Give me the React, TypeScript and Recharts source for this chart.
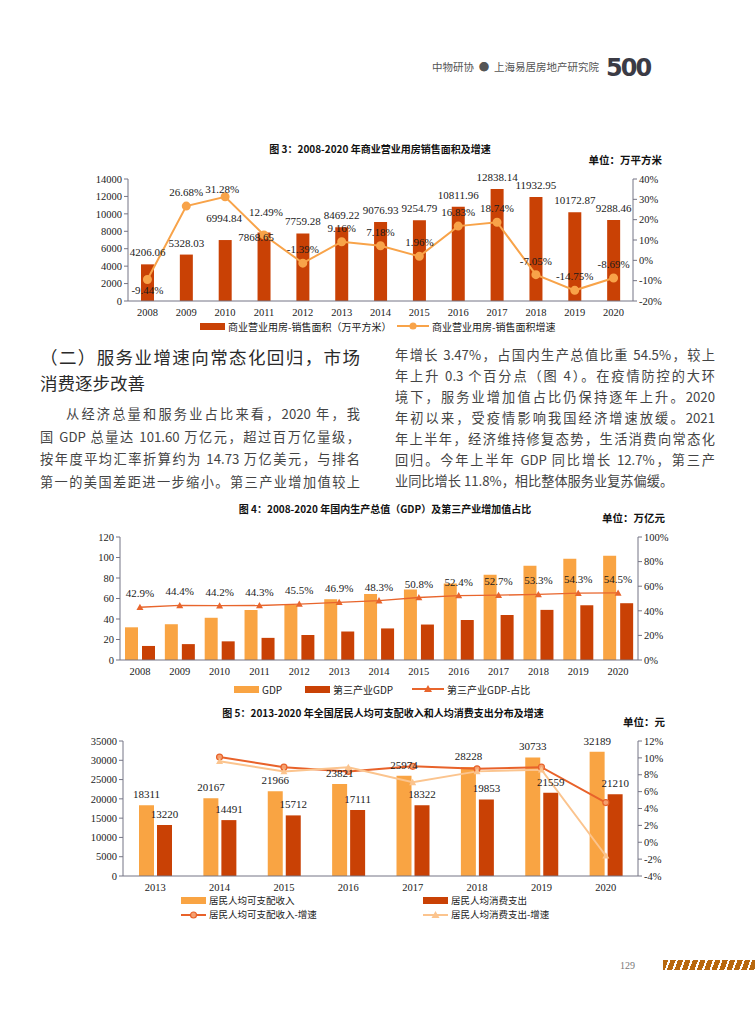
import React from 'react';
import { ComposedChart, Bar, Line, XAxis, YAxis, LabelList } from 'recharts';

// 图3 商业营业用房销售面积及增速
const years3 = ['2008', '2009', '2010', '2011', '2012', '2013', '2014', '2015', '2016', '2017', '2018', '2019', '2020'];
const salesArea = [4206.06, 5328.03, 6994.84, 7868.65, 7759.28, 8469.22, 9076.93, 9254.79, 10811.96, 12838.14, 11932.95, 10172.87, 9288.46];
const salesGrowth = [-9.44, 26.68, 31.28, 12.49, -1.39, 9.16, 7.18, 1.96, 16.83, 18.74, -7.05, -14.75, -8.69];
const areaTicks = [0, 2000, 4000, 6000, 8000, 10000, 12000, 14000];
const growthTicks = [-20, -10, 0, 10, 20, 30, 40];

// 图4 GDP 及第三产业占比
const years4 = years3;
const gdp = [31.9, 34.9, 41.2, 48.8, 53.9, 59.3, 64.4, 68.9, 74.6, 83.2, 91.9, 98.7, 101.6];
const tertiaryGdp = [13.7, 15.5, 18.2, 21.6, 24.4, 27.8, 30.8, 34.6, 39.0, 43.8, 48.9, 53.4, 55.4];
const tertiaryShare = [42.9, 44.4, 44.2, 44.3, 45.5, 46.9, 48.3, 50.8, 52.4, 52.7, 53.3, 54.3, 54.5];
const gdpTicks = [0, 20, 40, 60, 80, 100, 120];
const shareTicks = [0, 20, 40, 60, 80, 100];

// 图5 居民人均可支配收入和消费支出
const years5 = ['2013', '2014', '2015', '2016', '2017', '2018', '2019', '2020'];
const income = [18311, 20167, 21966, 23821, 25974, 28228, 30733, 32189];
const consumption = [13220, 14491, 15712, 17111, 18322, 19853, 21559, 21210];
const incomeGrowth = [null, 10.1, 8.9, 8.4, 9.0, 8.7, 8.9, 4.7];
const consumptionGrowth = [null, 9.6, 8.4, 8.9, 7.1, 8.4, 8.6, -1.6];
const incomeTicks = [0, 5000, 10000, 15000, 20000, 25000, 30000, 35000];
const rateTicks = [-4, -2, 0, 2, 4, 6, 8, 10, 12];

const NUM = '"Liberation Serif", "Times New Roman", serif';
const CJK = '"Noto Sans CJK SC", "Noto Sans", sans-serif';
const AXIS = '#757585';
const DARK = '#C94105';
const LIGHT = '#F9A443';

const tickStyle = { fontSize: 10.5, fill: '#222', fontFamily: NUM };

const range = (n: number) => Array.from({ length: n + 1 }, (_, i) => i);

// hand-moved labels in the original (index -> [dx, dy])
const areaLabelNudge: Record<number, number[]> = { 2: [-1, -10], 3: [-8, 17] };
const growthLabelNudge: Record<number, number[]> = { 2: [-3, 6], 3: [2, -9] };

// label placed above (or below) a bar top / line point
const makeLabel = (fmt: (v: number) => string, dy: number, belowIdx: number[] = [], belowDy = 16, nudge: Record<number, number[]> = {}) => (props: any) => {
  const vb = props.viewBox ?? props;
  const [nx, ny] = nudge[props.index] ?? [0, 0];
  const x = (vb.x ?? 0) + (vb.width ?? 0) / 2 + nx;
  const y = (vb.y ?? 0) + ny;
  if (props.value == null) return null;
  const below = belowIdx.includes(props.index);
  return (
    <text x={x} y={below ? y + belowDy : y - dy} textAnchor="middle" fontSize={11} fontFamily={NUM} fill="#1a1a1a">
      {fmt(Number(props.value))}
    </text>
  );
};

const triangleDot = (color: string, size: number) => (props: any) => {
  const { cx, cy, index } = props;
  if (typeof cx !== 'number' || typeof cy !== 'number' || props.value == null) return <g key={`t-${index}`} />;
  return (
    <path key={`t-${index}`} d={`M${cx},${cy - size} L${cx + size},${cy + size * 0.8} L${cx - size},${cy + size * 0.8} Z`} fill={color} />
  );
};

function T({ x, cy, size = 13, children, color = '#333', w, justify = false, weight = 400, anchor = 'left', family = CJK }: any) {
  const style: React.CSSProperties = {
    position: 'absolute',
    top: cy - size * 0.75,
    fontSize: size,
    lineHeight: `${size * 1.5}px`,
    color,
    fontWeight: weight,
    fontFamily: family,
    whiteSpace: justify ? 'normal' : 'nowrap',
  };
  if (anchor === 'right') style.right = 755 - x;
  else if (anchor === 'center') { style.left = x - 300; style.width = 600; style.textAlign = 'center'; }
  else style.left = x;
  if (w) style.width = w;
  if (justify) { style.textAlign = 'justify'; style.textAlignLast = 'justify'; }
  return <div style={style}>{children}</div>;
}

const legendRow: React.CSSProperties = {
  position: 'absolute', height: 11, display: 'flex', alignItems: 'center', whiteSpace: 'nowrap',
  lineHeight: '11px', color: '#222', fontFamily: CJK,
};

function LegendBox({ x, cy, color, text, w = 25, size = 10 }: any) {
  return (
    <div style={{ ...legendRow, fontSize: size, left: x, top: cy - 5.5 }}>
      <span style={{ display: 'inline-block', width: w, height: 7, background: color, marginRight: 3 }} />
      {text}
    </div>
  );
}

function LegendLine({ x, cy, color, text, marker, w = 32, fill, size = 10 }: any) {
  return (
    <div style={{ ...legendRow, fontSize: size, left: x, top: cy - 5.5 }}>
      <svg width={w} height={10} style={{ marginRight: 3 }}>
        <line x1={0} y1={5} x2={w} y2={5} stroke={color} strokeWidth={2} />
        {marker === 'circle' ? (
          <circle cx={w / 2} cy={5} r={3} fill={fill ?? color} stroke={color} strokeWidth={1.2} />
        ) : (
          <path d={`M${w / 2},1 L${w / 2 + 4},8 L${w / 2 - 4},8 Z`} fill={color} />
        )}
      </svg>
      {text}
    </div>
  );
}

const boundaryAxis = (n: number) => (
  <XAxis xAxisId="grid" type="number" domain={[0, n]} ticks={range(n)} allowDataOverflow tick={false}
    axisLine={false} tickLine={{ stroke: AXIS }} tickSize={4} height={1} />
);

export default function App() {
  const fig3 = years3.map((year, i) => ({ year, area: salesArea[i], growth: salesGrowth[i] }));
  const fig4 = years4.map((year, i) => ({ year, gdp: gdp[i], tertiary: tertiaryGdp[i], share: tertiaryShare[i] }));
  const fig5 = years5.map((year, i) => ({
    year, income: income[i], consumption: consumption[i], incomeGrowth: incomeGrowth[i], consumptionGrowth: consumptionGrowth[i],
  }));

  return (
    <div style={{ position: 'absolute', left: 0, top: 0, width: 755, height: 1024, background: '#fff', overflow: 'hidden', fontFamily: CJK }}>
      {/* header */}
      <T x={432} cy={67} size={10.5} color="#555">中物研协&nbsp;&nbsp;●&nbsp;&nbsp;上海易居房地产研究院</T>
      <div style={{ position: 'absolute', left: 606, top: 54, fontSize: 24, fontWeight: 800, fontFamily: '"DejaVu Sans", sans-serif', color: '#3b3b45', letterSpacing: -2 }}>500</div>

      {/* fig 3 */}
      <T x={380} cy={148} size={10} anchor="center" color="#111" weight={700}>图 3：2008-2020 年商业营业用房销售面积及增速</T>
      <T x={662} cy={160} size={10.5} anchor="right" color="#111" weight={700}>单位：万平方米</T>
      <div style={{ position: 'absolute', left: 0, top: 170 }}>
        <ComposedChart width={755} height={150} data={fig3} margin={{ top: 9, right: 72, bottom: 17, left: 78 }}>
          <XAxis dataKey="year" interval={0} tickLine={false} axisLine={{ stroke: AXIS }} tick={tickStyle} height={1} />
          {boundaryAxis(years3.length)}
          <YAxis yAxisId="left" width={50} domain={[0, 14000]} ticks={areaTicks} interval={0} tick={tickStyle}
            axisLine={{ stroke: AXIS }} tickLine={{ stroke: AXIS }} tickSize={4} />
          <YAxis yAxisId="right" orientation="right" width={50} domain={[-20, 40]} ticks={growthTicks} interval={0}
            tick={tickStyle} tickFormatter={(v) => `${v}%`} axisLine={{ stroke: AXIS }} tickLine={{ stroke: AXIS }} tickSize={4} />
          <Bar yAxisId="left" dataKey="area" fill={DARK} barSize={13} isAnimationActive={false}>
            <LabelList dataKey="area" content={makeLabel((v) => v.toFixed(2), 8, [], 16, areaLabelNudge)} />
          </Bar>
          <Line yAxisId="right" dataKey="growth" type="linear" stroke="#F8A349" strokeWidth={2}
            dot={{ r: 3.5, fill: '#F8A349', stroke: '#F8A349' }} isAnimationActive={false}>
            <LabelList dataKey="growth" content={makeLabel((v) => `${v.toFixed(2)}%`, 10, [0], 14, growthLabelNudge)} />
          </Line>
        </ComposedChart>
      </div>
      <LegendBox x={200} cy={326} color={DARK} text="商业营业用房-销售面积（万平方米）" />
      <LegendLine x={397} cy={326} color="#F8A349" marker="circle" text="商业营业用房-销售面积增速" />

      {/* text section */}
      <T x={40} cy={357} size={17.5} w={320} justify color="#2a2a2a">（二）服务业增速向常态化回归，市场</T>
      <T x={40} cy={383} size={17.5} color="#2a2a2a">消费逐步改善</T>
      <T x={66} cy={414} size={13.2} w={294} justify color="#444">从经济总量和服务业占比来看，2020 年，我</T>
      <T x={40} cy={437} size={13.2} w={320} justify color="#444">国 GDP 总量达 101.60 万亿元，超过百万亿量级，</T>
      <T x={40} cy={459} size={13.2} w={320} justify color="#444">按年度平均汇率折算约为 14.73 万亿美元，与排名</T>
      <T x={40} cy={482} size={13.2} w={320} justify color="#444">第一的美国差距进一步缩小。第三产业增加值较上</T>

      <T x={395} cy={355} size={13.2} w={320} justify color="#444">年增长 3.47%，占国内生产总值比重 54.5%，较上</T>
      <T x={395} cy={376} size={13.2} w={320} justify color="#444">年上升 0.3 个百分点（图 4）。在疫情防控的大环</T>
      <T x={395} cy={397} size={13.2} w={320} justify color="#444">境下，服务业增加值占比仍保持逐年上升。2020</T>
      <T x={395} cy={418} size={13.2} w={320} justify color="#444">年初以来，受疫情影响我国经济增速放缓。2021</T>
      <T x={395} cy={439} size={13.2} w={320} justify color="#444">年上半年，经济维持修复态势，生活消费向常态化</T>
      <T x={395} cy={460} size={13.2} w={320} justify color="#444">回归。今年上半年 GDP 同比增长 12.7%，第三产</T>
      <T x={395} cy={481} size={13.2} color="#444">业同比增长 11.8%，相比整体服务业复苏偏缓。</T>

      {/* fig 4 */}
      <T x={385} cy={508} size={10} anchor="center" color="#111" weight={700}>图 4：2008-2020 年国内生产总值（GDP）及第三产业增加值占比</T>
      <T x={665} cy={518} size={10.5} anchor="right" color="#111" weight={700}>单位：万亿元</T>
      <div style={{ position: 'absolute', left: 0, top: 527 }}>
        <ComposedChart width={755} height={152} data={fig4} margin={{ top: 10, right: 72, bottom: 17, left: 75 }}>
          <XAxis dataKey="year" interval={0} tickLine={false} axisLine={{ stroke: AXIS }} tick={tickStyle} height={1} />
          {boundaryAxis(years4.length)}
          <YAxis yAxisId="left" width={45} domain={[0, 120]} ticks={gdpTicks} interval={0} tick={tickStyle}
            axisLine={{ stroke: AXIS }} tickLine={{ stroke: AXIS }} tickSize={4} />
          <YAxis yAxisId="right" orientation="right" width={45} domain={[0, 100]} ticks={shareTicks} interval={0}
            tick={tickStyle} tickFormatter={(v) => `${v}%`} axisLine={{ stroke: AXIS }} tickLine={{ stroke: AXIS }} tickSize={4} />
          <Bar yAxisId="left" dataKey="gdp" fill={LIGHT} barSize={13} isAnimationActive={false} />
          <Bar yAxisId="left" dataKey="tertiary" fill={DARK} barSize={13} isAnimationActive={false} />
          <Line yAxisId="right" dataKey="share" type="linear" stroke="#E8652C" strokeWidth={1.3}
            dot={triangleDot('#E8652C', 3.5)} isAnimationActive={false}>
            <LabelList dataKey="share" content={makeLabel((v) => `${v.toFixed(1)}%`, 10)} />
          </Line>
        </ComposedChart>
      </div>
      <LegendBox x={234} cy={689} color={LIGHT} text="GDP" />
      <LegendBox x={305} cy={689} color={DARK} text="第三产业GDP" />
      <LegendLine x={412} cy={689} color="#E8652C" marker="triangle" text="第三产业GDP-占比" />

      {/* fig 5 */}
      <T x={383} cy={712} size={10} anchor="center" color="#111" weight={700}>图 5：2013-2020 年全国居民人均可支配收入和人均消费支出分布及增速</T>
      <T x={665} cy={722} size={10.5} anchor="right" color="#111" weight={700}>单位：元</T>
      <div style={{ position: 'absolute', left: 0, top: 731 }}>
        <ComposedChart width={755} height={162} data={fig5} margin={{ top: 10, right: 72, bottom: 15, left: 73 }} barGap={3}>
          <XAxis dataKey="year" interval={0} tickLine={false} axisLine={{ stroke: AXIS }} tick={tickStyle} height={1} />
          {boundaryAxis(years5.length)}
          <YAxis yAxisId="left" width={50} domain={[0, 35000]} ticks={incomeTicks} interval={0} tick={tickStyle}
            axisLine={{ stroke: AXIS }} tickLine={{ stroke: AXIS }} tickSize={4} />
          <YAxis yAxisId="right" orientation="right" width={45} domain={[-4, 12]} ticks={rateTicks} interval={0}
            tick={tickStyle} tickFormatter={(v) => `${v}%`} axisLine={{ stroke: AXIS }} tickLine={{ stroke: AXIS }} tickSize={4} />
          <Bar yAxisId="left" dataKey="income" fill={LIGHT} barSize={15} isAnimationActive={false}>
            <LabelList dataKey="income" content={makeLabel((v) => `${v}`, 7)} />
          </Bar>
          <Bar yAxisId="left" dataKey="consumption" fill={DARK} barSize={15} isAnimationActive={false}>
            <LabelList dataKey="consumption" content={makeLabel((v) => `${v}`, 7)} />
          </Bar>
          <Line yAxisId="right" dataKey="incomeGrowth" type="linear" stroke="#E8622A" strokeWidth={2}
            dot={{ r: 3, fill: '#F5A070', stroke: '#E8622A', strokeWidth: 1.2 }} isAnimationActive={false} />
          <Line yAxisId="right" dataKey="consumptionGrowth" type="linear" stroke="#FBC48E" strokeWidth={2}
            dot={triangleDot('#FBC48E', 3.5)} isAnimationActive={false} />
        </ComposedChart>
      </div>
      <LegendBox x={181} cy={900} size={9.5} color={LIGHT} text="居民人均可支配收入" />
      <LegendBox x={423} cy={900} size={9.5} color={DARK} text="居民人均消费支出" />
      <LegendLine x={181} cy={914.5} size={9.5} color="#E8622A" marker="circle" fill="#F5A070" w={25} text="居民人均可支配收入-增速" />
      <LegendLine x={423} cy={914.5} size={9.5} color="#FBC48E" marker="triangle" w={25} text="居民人均消费支出-增速" />

      {/* footer */}
      <T x={620} cy={965} size={10} color="#777" family={NUM}>129</T>
      <div style={{ position: 'absolute', left: 663, top: 960, width: 92, height: 10,
        background: 'repeating-linear-gradient(110deg, #B8680E 0px, #B8680E 5px, #ffffff 5px, #ffffff 7px)' }} />
    </div>
  );
}
